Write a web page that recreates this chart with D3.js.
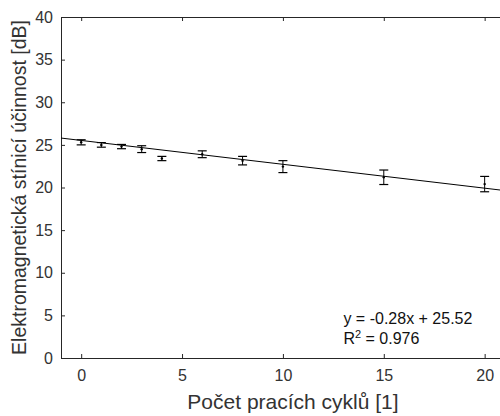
<!DOCTYPE html>
<html>
<head>
<meta charset="utf-8">
<script src="https://cdn.jsdelivr.net/npm/d3@7"></script>
<style>
html,body{margin:0;padding:0;background:#fff;}
svg{display:block;font-family:Arial,"Liberation Sans",sans-serif;}
</style>
</head>
<body>
<svg id="chart" width="500" height="416"></svg>
<script>
const cycles = [0, 1, 2, 3, 4, 6, 8, 10, 15, 20];
const means  = [25.3, 25.0, 24.8, 24.5, 23.4, 23.9, 23.15, 22.45, 21.2, 20.4];
const errs   = [0.3, 0.27, 0.25, 0.4, 0.25, 0.4, 0.5, 0.7, 0.85, 0.9];
const xTicks = [0, 5, 10, 15, 20];
const yTicks = [0, 5, 10, 15, 20, 25, 30, 35, 40];
const slope = -0.28, intercept = 25.52;
const eqLines = ["y = -0.28x + 25.52", "R2 = 0.976"];
const xTitle = "Počet pracích cyklů [1]";
const yTitle = "Elektromagnetická stínicí účinnost [dB]";

const svg = d3.select("#chart");
const L = 61, R = 525, T = 17, B = 358;
const x = d3.scaleLinear().domain([-1, 22]).range([L, R]);
const y = d3.scaleLinear().domain([0, 40]).range([B, T]);
const axisCol = "#262626";
const textCol = "#333";

svg.append("defs").append("clipPath").attr("id","clip")
  .append("rect").attr("x",L).attr("y",T).attr("width",R-L).attr("height",B-T);

// axes
const gx = svg.append("g").attr("transform",`translate(0,${B})`)
  .call(d3.axisBottom(x).tickValues(xTicks).tickSizeInner(-4).tickSizeOuter(0).tickPadding(12));
const gxt = svg.append("g").attr("transform",`translate(0,${T})`)
  .call(d3.axisTop(x).tickValues(xTicks).tickSizeInner(-4).tickSizeOuter(0).tickFormat(""));
const gy = svg.append("g").attr("transform",`translate(${L},0)`)
  .call(d3.axisLeft(y).tickValues(yTicks).tickSizeInner(-4).tickSizeOuter(0).tickPadding(8));
const gyr = svg.append("g").attr("transform",`translate(${R},0)`)
  .call(d3.axisRight(y).tickValues(yTicks).tickSizeInner(-4).tickSizeOuter(0).tickFormat(""));
[gx,gxt,gy,gyr].forEach(g=>{
  g.select(".domain").attr("stroke",axisCol).attr("stroke-width",1);
  g.selectAll(".tick line").attr("stroke",axisCol);
  g.selectAll("text").attr("fill",textCol).style("font-size","16px").style("font-family","Arial, 'Liberation Sans', sans-serif");
});

const plot = svg.append("g").attr("clip-path","url(#clip)");
// trend line
plot.append("line")
  .attr("x1",x(-1)).attr("y1",y(slope*-1+intercept))
  .attr("x2",x(22)).attr("y2",y(slope*22+intercept))
  .attr("stroke","#000").attr("stroke-width",1);

// error bars
const data = cycles.map((c,i)=>({c, m:means[i], e:errs[i]}));
const eb = plot.selectAll(".eb").data(data).enter().append("g");
eb.append("line").attr("x1",d=>x(d.c)).attr("x2",d=>x(d.c))
  .attr("y1",d=>y(d.m+d.e)).attr("y2",d=>y(d.m-d.e)).attr("stroke","#000").attr("stroke-width",1);
eb.append("line").attr("x1",d=>x(d.c)-4.5).attr("x2",d=>x(d.c)+4.5)
  .attr("y1",d=>y(d.m+d.e)).attr("y2",d=>y(d.m+d.e)).attr("stroke","#000").attr("stroke-width",1.2);
eb.append("line").attr("x1",d=>x(d.c)-4.5).attr("x2",d=>x(d.c)+4.5)
  .attr("y1",d=>y(d.m-d.e)).attr("y2",d=>y(d.m-d.e)).attr("stroke","#000").attr("stroke-width",1.2);
eb.append("circle").attr("cx",d=>x(d.c)).attr("cy",d=>y(d.m)).attr("r",1.2).attr("fill","#000");

// equation text
const eqX = x(13.0);
svg.append("text").attr("x",eqX).attr("y",324)
  .attr("fill","#111").style("font-size","16px").text(eqLines[0]);
const r2 = svg.append("text").attr("x",eqX).attr("y",344)
  .attr("fill","#111").style("font-size","16px");
r2.append("tspan").text("R");
r2.append("tspan").attr("dy",-6).style("font-size","11px").text("2");
r2.append("tspan").attr("dy",6).text(" = 0.976");

// titles
svg.append("text").attr("x",(L+R)/2).attr("y",409).attr("text-anchor","middle")
  .attr("fill",textCol).style("font-size","21px").text(xTitle);
svg.append("text").attr("transform",`translate(26,${(T+B)/2}) rotate(-90)`)
  .attr("text-anchor","middle").attr("fill",textCol).style("font-size","19.5px").text(yTitle);
</script>
</body>
</html>
